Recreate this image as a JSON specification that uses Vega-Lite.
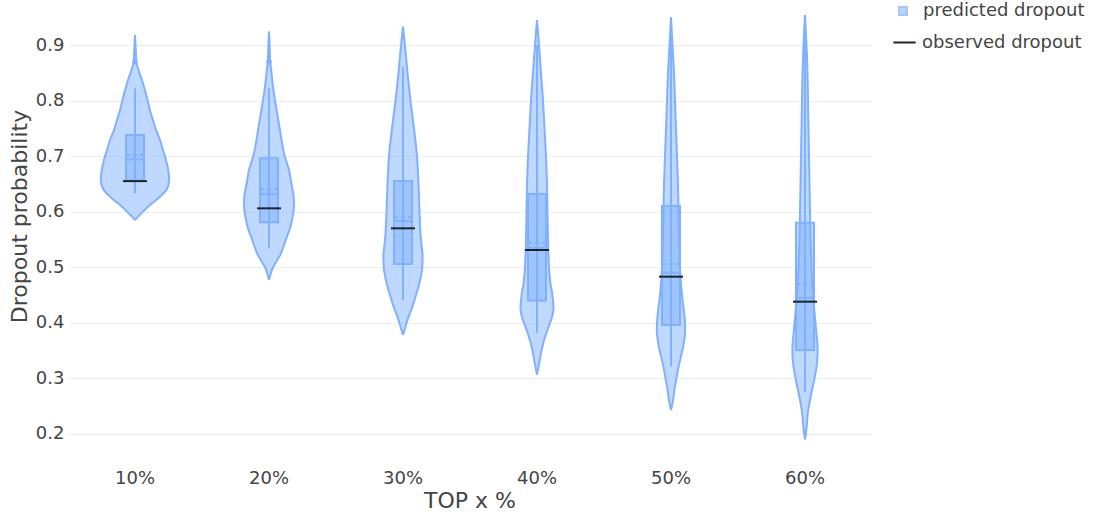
{
  "$schema": "https://vega.github.io/schema/vega-lite/v6.json",
  "padding": {"left": 8, "top": 0, "right": 0, "bottom": 0},
  "background": "white",
  "config": {
    "font": "DejaVu Sans",
    "view": {"stroke": null},
    "axis": {"labelColor": "#444", "titleColor": "#444"}
  },
  "data": {
    "values": [
      {"kind": "v", "group": "10%", "p": 0.585, "density": 0},
      {"kind": "v", "group": "10%", "p": 0.591, "density": 3},
      {"kind": "v", "group": "10%", "p": 0.600, "density": 8},
      {"kind": "v", "group": "10%", "p": 0.609, "density": 13},
      {"kind": "v", "group": "10%", "p": 0.618, "density": 19},
      {"kind": "v", "group": "10%", "p": 0.627, "density": 25},
      {"kind": "v", "group": "10%", "p": 0.636, "density": 30},
      {"kind": "v", "group": "10%", "p": 0.645, "density": 33},
      {"kind": "v", "group": "10%", "p": 0.655, "density": 34},
      {"kind": "v", "group": "10%", "p": 0.663, "density": 34},
      {"kind": "v", "group": "10%", "p": 0.678, "density": 33},
      {"kind": "v", "group": "10%", "p": 0.693, "density": 31},
      {"kind": "v", "group": "10%", "p": 0.711, "density": 28},
      {"kind": "v", "group": "10%", "p": 0.729, "density": 25},
      {"kind": "v", "group": "10%", "p": 0.747, "density": 21},
      {"kind": "v", "group": "10%", "p": 0.765, "density": 18},
      {"kind": "v", "group": "10%", "p": 0.782, "density": 15},
      {"kind": "v", "group": "10%", "p": 0.800, "density": 12.7},
      {"kind": "v", "group": "10%", "p": 0.818, "density": 10},
      {"kind": "v", "group": "10%", "p": 0.837, "density": 7},
      {"kind": "v", "group": "10%", "p": 0.852, "density": 4},
      {"kind": "v", "group": "10%", "p": 0.868, "density": 1.5},
      {"kind": "v", "group": "10%", "p": 0.890, "density": 0.8},
      {"kind": "v", "group": "10%", "p": 0.918, "density": 0},

      {"kind": "v", "group": "20%", "p": 0.477, "density": 0},
      {"kind": "v", "group": "20%", "p": 0.490, "density": 2},
      {"kind": "v", "group": "20%", "p": 0.500, "density": 4},
      {"kind": "v", "group": "20%", "p": 0.512, "density": 8},
      {"kind": "v", "group": "20%", "p": 0.525, "density": 12},
      {"kind": "v", "group": "20%", "p": 0.540, "density": 15},
      {"kind": "v", "group": "20%", "p": 0.555, "density": 18},
      {"kind": "v", "group": "20%", "p": 0.570, "density": 21},
      {"kind": "v", "group": "20%", "p": 0.585, "density": 23},
      {"kind": "v", "group": "20%", "p": 0.600, "density": 24.5},
      {"kind": "v", "group": "20%", "p": 0.615, "density": 25},
      {"kind": "v", "group": "20%", "p": 0.630, "density": 24.5},
      {"kind": "v", "group": "20%", "p": 0.645, "density": 23},
      {"kind": "v", "group": "20%", "p": 0.660, "density": 21.5},
      {"kind": "v", "group": "20%", "p": 0.675, "density": 20},
      {"kind": "v", "group": "20%", "p": 0.690, "density": 17.5},
      {"kind": "v", "group": "20%", "p": 0.705, "density": 15},
      {"kind": "v", "group": "20%", "p": 0.735, "density": 12},
      {"kind": "v", "group": "20%", "p": 0.765, "density": 9.3},
      {"kind": "v", "group": "20%", "p": 0.795, "density": 6.5},
      {"kind": "v", "group": "20%", "p": 0.825, "density": 4},
      {"kind": "v", "group": "20%", "p": 0.850, "density": 2.5},
      {"kind": "v", "group": "20%", "p": 0.870, "density": 1.2},
      {"kind": "v", "group": "20%", "p": 0.895, "density": 0.7},
      {"kind": "v", "group": "20%", "p": 0.924, "density": 0},

      {"kind": "v", "group": "30%", "p": 0.378, "density": 0},
      {"kind": "v", "group": "30%", "p": 0.390, "density": 2},
      {"kind": "v", "group": "30%", "p": 0.405, "density": 4.5},
      {"kind": "v", "group": "30%", "p": 0.420, "density": 7.5},
      {"kind": "v", "group": "30%", "p": 0.435, "density": 10.5},
      {"kind": "v", "group": "30%", "p": 0.450, "density": 13},
      {"kind": "v", "group": "30%", "p": 0.465, "density": 15.5},
      {"kind": "v", "group": "30%", "p": 0.480, "density": 17.5},
      {"kind": "v", "group": "30%", "p": 0.495, "density": 19},
      {"kind": "v", "group": "30%", "p": 0.510, "density": 19.5},
      {"kind": "v", "group": "30%", "p": 0.525, "density": 19.5},
      {"kind": "v", "group": "30%", "p": 0.540, "density": 18.5},
      {"kind": "v", "group": "30%", "p": 0.560, "density": 17.5},
      {"kind": "v", "group": "30%", "p": 0.600, "density": 16.5},
      {"kind": "v", "group": "30%", "p": 0.650, "density": 15.5},
      {"kind": "v", "group": "30%", "p": 0.700, "density": 14},
      {"kind": "v", "group": "30%", "p": 0.750, "density": 11},
      {"kind": "v", "group": "30%", "p": 0.800, "density": 7.5},
      {"kind": "v", "group": "30%", "p": 0.850, "density": 4.5},
      {"kind": "v", "group": "30%", "p": 0.890, "density": 2.5},
      {"kind": "v", "group": "30%", "p": 0.933, "density": 0},

      {"kind": "v", "group": "40%", "p": 0.307, "density": 0},
      {"kind": "v", "group": "40%", "p": 0.320, "density": 1.5},
      {"kind": "v", "group": "40%", "p": 0.335, "density": 3},
      {"kind": "v", "group": "40%", "p": 0.350, "density": 4.5},
      {"kind": "v", "group": "40%", "p": 0.365, "density": 6.5},
      {"kind": "v", "group": "40%", "p": 0.380, "density": 9},
      {"kind": "v", "group": "40%", "p": 0.395, "density": 12},
      {"kind": "v", "group": "40%", "p": 0.410, "density": 15},
      {"kind": "v", "group": "40%", "p": 0.425, "density": 16.5},
      {"kind": "v", "group": "40%", "p": 0.440, "density": 16},
      {"kind": "v", "group": "40%", "p": 0.455, "density": 15},
      {"kind": "v", "group": "40%", "p": 0.470, "density": 13.5},
      {"kind": "v", "group": "40%", "p": 0.500, "density": 12},
      {"kind": "v", "group": "40%", "p": 0.550, "density": 11},
      {"kind": "v", "group": "40%", "p": 0.600, "density": 10.5},
      {"kind": "v", "group": "40%", "p": 0.650, "density": 10},
      {"kind": "v", "group": "40%", "p": 0.700, "density": 9},
      {"kind": "v", "group": "40%", "p": 0.750, "density": 7.5},
      {"kind": "v", "group": "40%", "p": 0.800, "density": 6},
      {"kind": "v", "group": "40%", "p": 0.850, "density": 4},
      {"kind": "v", "group": "40%", "p": 0.900, "density": 2},
      {"kind": "v", "group": "40%", "p": 0.945, "density": 0},

      {"kind": "v", "group": "50%", "p": 0.243, "density": 0},
      {"kind": "v", "group": "50%", "p": 0.260, "density": 2},
      {"kind": "v", "group": "50%", "p": 0.280, "density": 3.5},
      {"kind": "v", "group": "50%", "p": 0.300, "density": 5.5},
      {"kind": "v", "group": "50%", "p": 0.320, "density": 7.5},
      {"kind": "v", "group": "50%", "p": 0.340, "density": 10},
      {"kind": "v", "group": "50%", "p": 0.360, "density": 12.5},
      {"kind": "v", "group": "50%", "p": 0.380, "density": 14},
      {"kind": "v", "group": "50%", "p": 0.400, "density": 14},
      {"kind": "v", "group": "50%", "p": 0.420, "density": 13},
      {"kind": "v", "group": "50%", "p": 0.450, "density": 11},
      {"kind": "v", "group": "50%", "p": 0.500, "density": 9},
      {"kind": "v", "group": "50%", "p": 0.550, "density": 8},
      {"kind": "v", "group": "50%", "p": 0.600, "density": 7.5},
      {"kind": "v", "group": "50%", "p": 0.650, "density": 7},
      {"kind": "v", "group": "50%", "p": 0.700, "density": 6},
      {"kind": "v", "group": "50%", "p": 0.750, "density": 5},
      {"kind": "v", "group": "50%", "p": 0.800, "density": 4},
      {"kind": "v", "group": "50%", "p": 0.850, "density": 3},
      {"kind": "v", "group": "50%", "p": 0.900, "density": 1.5},
      {"kind": "v", "group": "50%", "p": 0.950, "density": 0},

      {"kind": "v", "group": "60%", "p": 0.190, "density": 0},
      {"kind": "v", "group": "60%", "p": 0.210, "density": 1.5},
      {"kind": "v", "group": "60%", "p": 0.240, "density": 3},
      {"kind": "v", "group": "60%", "p": 0.270, "density": 6},
      {"kind": "v", "group": "60%", "p": 0.300, "density": 9.5},
      {"kind": "v", "group": "60%", "p": 0.320, "density": 11.5},
      {"kind": "v", "group": "60%", "p": 0.340, "density": 12.5},
      {"kind": "v", "group": "60%", "p": 0.360, "density": 12.5},
      {"kind": "v", "group": "60%", "p": 0.380, "density": 11.5},
      {"kind": "v", "group": "60%", "p": 0.400, "density": 10.5},
      {"kind": "v", "group": "60%", "p": 0.450, "density": 8},
      {"kind": "v", "group": "60%", "p": 0.500, "density": 6.5},
      {"kind": "v", "group": "60%", "p": 0.550, "density": 5.5},
      {"kind": "v", "group": "60%", "p": 0.600, "density": 5},
      {"kind": "v", "group": "60%", "p": 0.650, "density": 4.5},
      {"kind": "v", "group": "60%", "p": 0.700, "density": 4},
      {"kind": "v", "group": "60%", "p": 0.750, "density": 3.5},
      {"kind": "v", "group": "60%", "p": 0.800, "density": 3},
      {"kind": "v", "group": "60%", "p": 0.850, "density": 2.5},
      {"kind": "v", "group": "60%", "p": 0.900, "density": 1.5},
      {"kind": "v", "group": "60%", "p": 0.954, "density": 0},

      {"kind": "s", "group": "10%", "q1": 0.656, "q3": 0.738, "median": 0.694, "mean": 0.702, "lo": 0.633, "hi": 0.822, "obs": 0.655},
      {"kind": "s", "group": "20%", "q1": 0.581, "q3": 0.696, "median": 0.632, "mean": 0.641, "lo": 0.534, "hi": 0.822, "obs": 0.606},
      {"kind": "s", "group": "30%", "q1": 0.506, "q3": 0.655, "median": 0.583, "mean": 0.590, "lo": 0.441, "hi": 0.860, "obs": 0.570},
      {"kind": "s", "group": "40%", "q1": 0.440, "q3": 0.632, "median": 0.535, "mean": 0.544, "lo": 0.382, "hi": 0.900, "obs": 0.531},
      {"kind": "s", "group": "50%", "q1": 0.396, "q3": 0.610, "median": 0.490, "mean": 0.506, "lo": 0.322, "hi": 0.920, "obs": 0.483},
      {"kind": "s", "group": "60%", "q1": 0.351, "q3": 0.580, "median": 0.445, "mean": 0.470, "lo": 0.276, "hi": 0.920, "obs": 0.438},

      {"kind": "o", "group": "10%", "p": 0.870},
      {"kind": "o", "group": "20%", "p": 0.870}
    ]
  },
  "spacing": 0,
  "bounds": "flush",
  "facet": {
    "column": {
      "field": "group",
      "type": "ordinal",
      "title": "TOP x %",
      "header": {
        "labelOrient": "bottom",
        "titleOrient": "bottom",
        "labelFontSize": 18,
        "labelColor": "#444",
        "labelPadding": 10,
        "titleFontSize": 22,
        "titleFontWeight": "normal",
        "titleColor": "#444",
        "titlePadding": -7
      }
    }
  },
  "spec": {
    "width": 134,
    "height": 460,
    "resolve": {"scale": {"x": "independent"}},
    "layer": [
      {
        "transform": [{"filter": "datum.kind === 'v'"}],
        "mark": {"type": "area", "orient": "horizontal", "interpolate": "catmull-rom", "fillOpacity": 0.5},
        "encoding": {
          "y": {
            "field": "p", "type": "quantitative", "title": "Dropout probability",
            "scale": {"domain": [0.153, 0.981], "nice": false, "zero": false},
            "axis": {"values": [0.2, 0.3, 0.4, 0.5, 0.6, 0.7, 0.8, 0.9], "format": ".1f", "grid": true, "gridColor": "#eeeeee", "domain": false, "ticks": false, "labelFontSize": 18, "labelPadding": 4, "titleFontSize": 22, "titleFontWeight": "normal", "titlePadding": 4, "titleY": 216}
          },
          "x": {"field": "density", "type": "quantitative", "scale": {"domain": [-67, 67]}, "axis": null},
          "fill": {
            "datum": "predicted dropout", "type": "nominal",
            "scale": {"domain": ["predicted dropout"], "range": ["#80b1ff"]},
            "legend": {
              "title": null, "orient": "right", "offset": 20, "padding": 2,
              "labelFontSize": 18, "labelColor": "#444", "labelOffset": 11, "labelLimit": 400,
              "symbolType": "square", "symbolSize": 64, "symbolOpacity": 0.55,
              "symbolStrokeColor": "#5a9aff", "symbolStrokeWidth": 2
            }
          }
        }
      },
      {
        "transform": [{"filter": "datum.kind === 'v'"}],
        "mark": {"type": "area", "orient": "horizontal", "interpolate": "catmull-rom", "fill": "#80b1ff", "fillOpacity": 0.5},
        "encoding": {
          "y": {"field": "p", "type": "quantitative", "title": "Dropout probability"},
          "x": {"field": "density", "type": "quantitative", "scale": {"domain": [-67, 67], "reverse": true}, "axis": null}
        }
      },
      {
        "transform": [{"filter": "datum.kind === 'v'"}],
        "mark": {"type": "line", "interpolate": "catmull-rom", "stroke": "#80b1ff", "strokeWidth": 2},
        "encoding": {
          "y": {"field": "p", "type": "quantitative", "title": "Dropout probability"},
          "x": {"field": "density", "type": "quantitative", "scale": {"domain": [-67, 67]}, "axis": null},
          "order": {"field": "p", "type": "quantitative"}
        }
      },
      {
        "transform": [{"filter": "datum.kind === 'v'"}],
        "mark": {"type": "line", "interpolate": "catmull-rom", "stroke": "#80b1ff", "strokeWidth": 2},
        "encoding": {
          "y": {"field": "p", "type": "quantitative", "title": "Dropout probability"},
          "x": {"field": "density", "type": "quantitative", "scale": {"domain": [-67, 67], "reverse": true}, "axis": null},
          "order": {"field": "p", "type": "quantitative"}
        }
      },
      {
        "transform": [{"filter": "datum.kind === 's'"}],
        "mark": {"type": "rule", "stroke": "#80b1ff", "strokeWidth": 2},
        "encoding": {
          "x": {"datum": 0, "type": "quantitative", "scale": {"domain": [-67, 67]}, "axis": null},
          "y": {"field": "lo", "type": "quantitative", "title": "Dropout probability"},
          "y2": {"field": "hi"}
        }
      },
      {
        "transform": [{"filter": "datum.kind === 's'"}],
        "mark": {"type": "rect", "fill": "#80b1ff", "fillOpacity": 0.5, "stroke": "#80b1ff", "strokeWidth": 2},
        "encoding": {
          "x": {"datum": -9, "type": "quantitative", "scale": {"domain": [-67, 67]}, "axis": null},
          "x2": {"datum": 9},
          "y": {"field": "q1", "type": "quantitative", "title": "Dropout probability"},
          "y2": {"field": "q3"}
        }
      },
      {
        "transform": [{"filter": "datum.kind === 's'"}],
        "mark": {"type": "rule", "stroke": "#80b1ff", "strokeWidth": 2},
        "encoding": {
          "x": {"datum": -9, "type": "quantitative", "scale": {"domain": [-67, 67]}, "axis": null},
          "x2": {"datum": 9},
          "y": {"field": "median", "type": "quantitative", "title": "Dropout probability"}
        }
      },
      {
        "transform": [{"filter": "datum.kind === 's'"}],
        "mark": {"type": "rule", "stroke": "#80b1ff", "strokeWidth": 2, "strokeDash": [4, 3]},
        "encoding": {
          "x": {"datum": -9, "type": "quantitative", "scale": {"domain": [-67, 67]}, "axis": null},
          "x2": {"datum": 9},
          "y": {"field": "mean", "type": "quantitative", "title": "Dropout probability"}
        }
      },
      {
        "transform": [{"filter": "datum.kind === 'o'"}],
        "mark": {"type": "point", "filled": true, "fill": "#80b1ff", "opacity": 1, "size": 30},
        "encoding": {
          "x": {"datum": 0, "type": "quantitative", "scale": {"domain": [-67, 67]}, "axis": null},
          "y": {"field": "p", "type": "quantitative", "title": "Dropout probability"}
        }
      },
      {
        "transform": [{"filter": "datum.kind === 's'"}],
        "mark": {"type": "rule", "strokeWidth": 2},
        "encoding": {
          "x": {"datum": -12, "type": "quantitative", "scale": {"domain": [-67, 67]}, "axis": null},
          "x2": {"datum": 12},
          "y": {"field": "obs", "type": "quantitative", "title": "Dropout probability"},
          "stroke": {
            "datum": "observed dropout", "type": "nominal",
            "scale": {"domain": ["observed dropout"], "range": ["#222222"]},
            "legend": {
              "title": null, "orient": "right", "offset": 20, "padding": 0,
              "labelFontSize": 18, "labelColor": "#444", "labelOffset": 5, "labelLimit": 400,
              "symbolType": "stroke", "symbolSize": 500, "symbolStrokeWidth": 2
            }
          }
        }
      }
    ]
  }
}
